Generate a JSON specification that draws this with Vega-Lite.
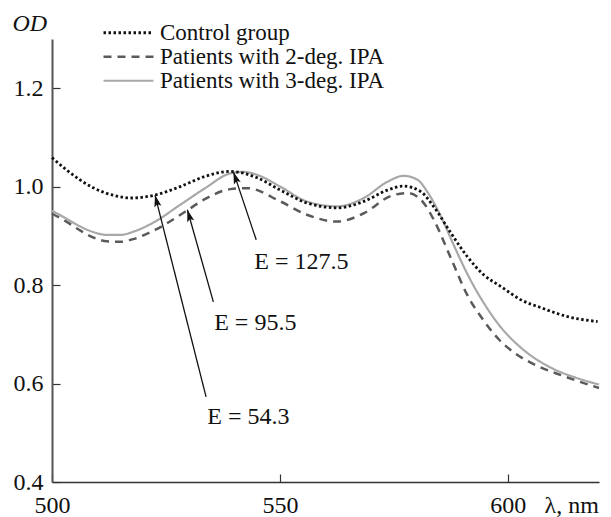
{
  "$schema": "https://vega.github.io/schema/vega-lite/v6.json",
  "width": 547,
  "height": 443,
  "autosize": {"type": "none"},
  "padding": {"left": 52, "top": 39, "right": 12, "bottom": 35},
  "background": "white",
  "config": {"view": {"stroke": null}, "font": "Liberation Serif"},
  "datasets": {
    "curves": [
      {"g": "Control group", "nm": 500, "od": 1.059},
      {"g": "Control group", "nm": 503.2, "od": 1.034},
      {"g": "Control group", "nm": 509, "od": 0.998},
      {"g": "Control group", "nm": 514.2, "od": 0.981},
      {"g": "Control group", "nm": 517.5, "od": 0.977},
      {"g": "Control group", "nm": 522.6, "od": 0.983},
      {"g": "Control group", "nm": 528.1, "od": 1.0},
      {"g": "Control group", "nm": 533.6, "od": 1.021},
      {"g": "Control group", "nm": 539.1, "od": 1.031},
      {"g": "Control group", "nm": 545, "od": 1.018},
      {"g": "Control group", "nm": 550.1, "od": 0.993},
      {"g": "Control group", "nm": 555.9, "od": 0.967},
      {"g": "Control group", "nm": 562.6, "od": 0.957},
      {"g": "Control group", "nm": 568.4, "od": 0.97},
      {"g": "Control group", "nm": 573.6, "od": 0.993},
      {"g": "Control group", "nm": 577.1, "od": 1.001},
      {"g": "Control group", "nm": 580.9, "od": 0.99},
      {"g": "Control group", "nm": 583.7, "od": 0.96},
      {"g": "Control group", "nm": 587.5, "od": 0.906},
      {"g": "Control group", "nm": 591.1, "od": 0.858},
      {"g": "Control group", "nm": 594.7, "od": 0.821},
      {"g": "Control group", "nm": 598.5, "od": 0.797},
      {"g": "Control group", "nm": 602.9, "od": 0.77},
      {"g": "Control group", "nm": 607.3, "od": 0.754},
      {"g": "Control group", "nm": 613.1, "od": 0.736},
      {"g": "Control group", "nm": 619.7, "od": 0.726},
      {"g": "Patients with 2-deg. IPA", "nm": 500, "od": 0.945},
      {"g": "Patients with 2-deg. IPA", "nm": 503, "od": 0.93},
      {"g": "Patients with 2-deg. IPA", "nm": 506, "od": 0.912},
      {"g": "Patients with 2-deg. IPA", "nm": 509, "od": 0.897},
      {"g": "Patients with 2-deg. IPA", "nm": 512, "od": 0.889},
      {"g": "Patients with 2-deg. IPA", "nm": 515, "od": 0.888},
      {"g": "Patients with 2-deg. IPA", "nm": 518, "od": 0.894},
      {"g": "Patients with 2-deg. IPA", "nm": 522.6, "od": 0.912},
      {"g": "Patients with 2-deg. IPA", "nm": 529.2, "od": 0.949},
      {"g": "Patients with 2-deg. IPA", "nm": 533.6, "od": 0.975},
      {"g": "Patients with 2-deg. IPA", "nm": 539.1, "od": 0.995},
      {"g": "Patients with 2-deg. IPA", "nm": 542.8, "od": 0.997},
      {"g": "Patients with 2-deg. IPA", "nm": 550.1, "od": 0.97},
      {"g": "Patients with 2-deg. IPA", "nm": 555.9, "od": 0.943},
      {"g": "Patients with 2-deg. IPA", "nm": 562.6, "od": 0.929},
      {"g": "Patients with 2-deg. IPA", "nm": 568.4, "od": 0.946},
      {"g": "Patients with 2-deg. IPA", "nm": 574.3, "od": 0.981},
      {"g": "Patients with 2-deg. IPA", "nm": 578, "od": 0.987},
      {"g": "Patients with 2-deg. IPA", "nm": 581.6, "od": 0.966},
      {"g": "Patients with 2-deg. IPA", "nm": 583.9, "od": 0.93},
      {"g": "Patients with 2-deg. IPA", "nm": 587.5, "od": 0.855},
      {"g": "Patients with 2-deg. IPA", "nm": 591.1, "od": 0.78},
      {"g": "Patients with 2-deg. IPA", "nm": 594.7, "od": 0.728},
      {"g": "Patients with 2-deg. IPA", "nm": 598, "od": 0.69},
      {"g": "Patients with 2-deg. IPA", "nm": 601.5, "od": 0.662},
      {"g": "Patients with 2-deg. IPA", "nm": 606, "od": 0.638},
      {"g": "Patients with 2-deg. IPA", "nm": 612, "od": 0.616},
      {"g": "Patients with 2-deg. IPA", "nm": 620, "od": 0.591},
      {"g": "Patients with 3-deg. IPA", "nm": 500, "od": 0.951},
      {"g": "Patients with 3-deg. IPA", "nm": 503, "od": 0.936},
      {"g": "Patients with 3-deg. IPA", "nm": 506, "od": 0.92},
      {"g": "Patients with 3-deg. IPA", "nm": 509, "od": 0.908},
      {"g": "Patients with 3-deg. IPA", "nm": 512, "od": 0.902},
      {"g": "Patients with 3-deg. IPA", "nm": 515, "od": 0.902},
      {"g": "Patients with 3-deg. IPA", "nm": 518, "od": 0.909},
      {"g": "Patients with 3-deg. IPA", "nm": 522.6, "od": 0.929},
      {"g": "Patients with 3-deg. IPA", "nm": 528.1, "od": 0.963},
      {"g": "Patients with 3-deg. IPA", "nm": 533.6, "od": 0.997},
      {"g": "Patients with 3-deg. IPA", "nm": 539.1, "od": 1.027},
      {"g": "Patients with 3-deg. IPA", "nm": 542, "od": 1.03},
      {"g": "Patients with 3-deg. IPA", "nm": 545, "od": 1.024},
      {"g": "Patients with 3-deg. IPA", "nm": 550.1, "od": 1.0},
      {"g": "Patients with 3-deg. IPA", "nm": 555.9, "od": 0.97},
      {"g": "Patients with 3-deg. IPA", "nm": 562.6, "od": 0.96},
      {"g": "Patients with 3-deg. IPA", "nm": 568.4, "od": 0.977},
      {"g": "Patients with 3-deg. IPA", "nm": 573.6, "od": 1.01},
      {"g": "Patients with 3-deg. IPA", "nm": 577.1, "od": 1.022},
      {"g": "Patients with 3-deg. IPA", "nm": 580.2, "od": 1.014},
      {"g": "Patients with 3-deg. IPA", "nm": 582.3, "od": 0.99},
      {"g": "Patients with 3-deg. IPA", "nm": 585.3, "od": 0.94},
      {"g": "Patients with 3-deg. IPA", "nm": 588.1, "od": 0.882},
      {"g": "Patients with 3-deg. IPA", "nm": 591.1, "od": 0.823},
      {"g": "Patients with 3-deg. IPA", "nm": 594.7, "od": 0.764},
      {"g": "Patients with 3-deg. IPA", "nm": 598.5, "od": 0.714},
      {"g": "Patients with 3-deg. IPA", "nm": 603.5, "od": 0.668},
      {"g": "Patients with 3-deg. IPA", "nm": 609.5, "od": 0.632},
      {"g": "Patients with 3-deg. IPA", "nm": 614.9, "od": 0.612},
      {"g": "Patients with 3-deg. IPA", "nm": 620, "od": 0.598}
    ],
    "notes": [
      {"label": "E = 127.5", "nm": 554.7, "od": 0.847},
      {"label": "E = 95.5", "nm": 544.6, "od": 0.723},
      {"label": "E = 54.3", "nm": 543.1, "od": 0.532}
    ],
    "arrows": [
      {"label": "E = 127.5", "nm": 544.8, "od": 0.892, "nm2": 539.8, "od2": 1.03},
      {"label": "E = 95.5", "nm": 535.4, "od": 0.766, "nm2": 529.7, "od2": 0.953},
      {"label": "E = 54.3", "nm": 533.8, "od": 0.573, "nm2": 522.6, "od2": 0.983}
    ]
  },
  "layer": [
    {
      "data": {"name": "curves"},
      "transform": [{"filter": "datum.g == 'Patients with 3-deg. IPA'"}],
      "mark": {"type": "line", "interpolate": "monotone"},
      "encoding": {
        "x": {
          "field": "nm", "type": "quantitative",
          "scale": {"domain": [500, 620], "nice": false, "zero": false},
          "axis": {
            "values": [500, 550, 600], "grid": false,
            "title": "λ, nm", "titleX": 492, "titleY": 30, "titleAlign": "left",
            "titleBaseline": "alphabetic", "titleFontWeight": "normal", "titleFontSize": 24,
            "titleFont": "Liberation Serif", "titleColor": "#111",
            "labelFont": "Liberation Serif", "labelFontSize": 24, "labelColor": "#111",
            "labelPadding": 19, "labelFlush": false, "labelOverlap": false,
            "tickSize": -8, "tickColor": "#333", "tickWidth": 1.2,
            "domainColor": "#333", "domainWidth": 1.5
          }
        },
        "y": {
          "field": "od", "type": "quantitative",
          "scale": {"domain": [0.4, 1.3], "nice": false, "zero": false},
          "axis": {
            "values": [0.4, 0.6, 0.8, 1.0, 1.2], "format": ".1f", "grid": false,
            "title": "OD", "titleAngle": 0, "titleX": -40, "titleY": -9, "titleAlign": "left",
            "titleBaseline": "alphabetic", "titleFontStyle": "italic", "titleFontWeight": "normal",
            "titleFontSize": 24, "titleFont": "Liberation Serif", "titleColor": "#111",
            "labelFont": "Liberation Serif", "labelFontSize": 24, "labelColor": "#111",
            "labelPadding": 17, "labelFlush": false, "labelOverlap": false,
            "tickSize": -8, "tickColor": "#333", "tickWidth": 1.2,
            "domainColor": "#555", "domainWidth": 2
          }
        },
        "color": {
          "field": "g", "type": "nominal",
          "scale": {"domain": ["Control group", "Patients with 2-deg. IPA", "Patients with 3-deg. IPA"], "range": ["#111111", "#5a5a5a", "#a8a8a8"]},
          "legend": {
            "title": null, "orient": "none", "legendX": 50, "legendY": -18,
            "symbolType": "stroke", "symbolSize": 2500, "clipHeight": 23.5,
            "labelFont": "Liberation Serif", "labelFontSize": 23, "labelColor": "#111",
            "labelOffset": 5, "padding": 0, "rowPadding": 0, "labelLimit": 400,
            "encode": {"symbols": {"update": {"strokeWidth": {"scale": "strokeWidth", "field": "value"}}}}
          }
        },
        "strokeDash": {
          "field": "g", "type": "nominal",
          "scale": {"domain": ["Control group", "Patients with 2-deg. IPA", "Patients with 3-deg. IPA"], "range": [[2.5, 2.5], [8, 6], [1, 0]]}
        },
        "strokeWidth": {
          "field": "g", "type": "nominal",
          "scale": {"domain": ["Control group", "Patients with 2-deg. IPA", "Patients with 3-deg. IPA"], "range": [2.8, 2.2, 4]}
        }
      }
    },
    {
      "data": {"name": "curves"},
      "transform": [{"filter": "datum.g == 'Patients with 2-deg. IPA'"}],
      "mark": {"type": "line", "interpolate": "monotone"},
      "encoding": {
        "x": {"field": "nm", "type": "quantitative"},
        "y": {"field": "od", "type": "quantitative"},
        "color": {"field": "g", "type": "nominal"},
        "strokeDash": {"field": "g", "type": "nominal"},
        "strokeWidth": {"field": "g", "type": "nominal"}
      }
    },
    {
      "data": {"name": "curves"},
      "transform": [{"filter": "datum.g == 'Control group'"}],
      "mark": {"type": "line", "interpolate": "monotone"},
      "encoding": {
        "x": {"field": "nm", "type": "quantitative"},
        "y": {"field": "od", "type": "quantitative"},
        "color": {"field": "g", "type": "nominal"},
        "strokeDash": {"field": "g", "type": "nominal"},
        "strokeWidth": {"field": "g", "type": "nominal"}
      }
    },
    {
      "data": {"name": "arrows"},
      "mark": {"type": "rule", "color": "#111", "strokeWidth": 1.3},
      "encoding": {
        "x": {"field": "nm", "type": "quantitative"},
        "y": {"field": "od", "type": "quantitative"},
        "x2": {"field": "nm2"},
        "y2": {"field": "od2"}
      }
    },
    {
      "data": {"name": "arrows"},
      "transform": [{"filter": "datum.label == 'E = 127.5'"}],
      "mark": {"type": "point", "shape": "M0,0L-0.6,2L0,1.6L0.6,2Z", "filled": true, "color": "#111", "size": 144, "angle": 341, "opacity": 1, "strokeWidth": 0},
      "encoding": {
        "x": {"field": "nm2", "type": "quantitative"},
        "y": {"field": "od2", "type": "quantitative"}
      }
    },
    {
      "data": {"name": "arrows"},
      "transform": [{"filter": "datum.label == 'E = 95.5'"}],
      "mark": {"type": "point", "shape": "M0,0L-0.6,2L0,1.6L0.6,2Z", "filled": true, "color": "#111", "size": 144, "angle": 344, "opacity": 1, "strokeWidth": 0},
      "encoding": {
        "x": {"field": "nm2", "type": "quantitative"},
        "y": {"field": "od2", "type": "quantitative"}
      }
    },
    {
      "data": {"name": "arrows"},
      "transform": [{"filter": "datum.label == 'E = 54.3'"}],
      "mark": {"type": "point", "shape": "M0,0L-0.6,2L0,1.6L0.6,2Z", "filled": true, "color": "#111", "size": 144, "angle": 346, "opacity": 1, "strokeWidth": 0},
      "encoding": {
        "x": {"field": "nm2", "type": "quantitative"},
        "y": {"field": "od2", "type": "quantitative"}
      }
    },
    {
      "data": {"name": "notes"},
      "mark": {"type": "text", "font": "Liberation Serif", "fontSize": 24, "color": "#111", "align": "center", "baseline": "middle"},
      "encoding": {
        "x": {"field": "nm", "type": "quantitative"},
        "y": {"field": "od", "type": "quantitative"},
        "text": {"field": "label"}
      }
    }
  ]
}
